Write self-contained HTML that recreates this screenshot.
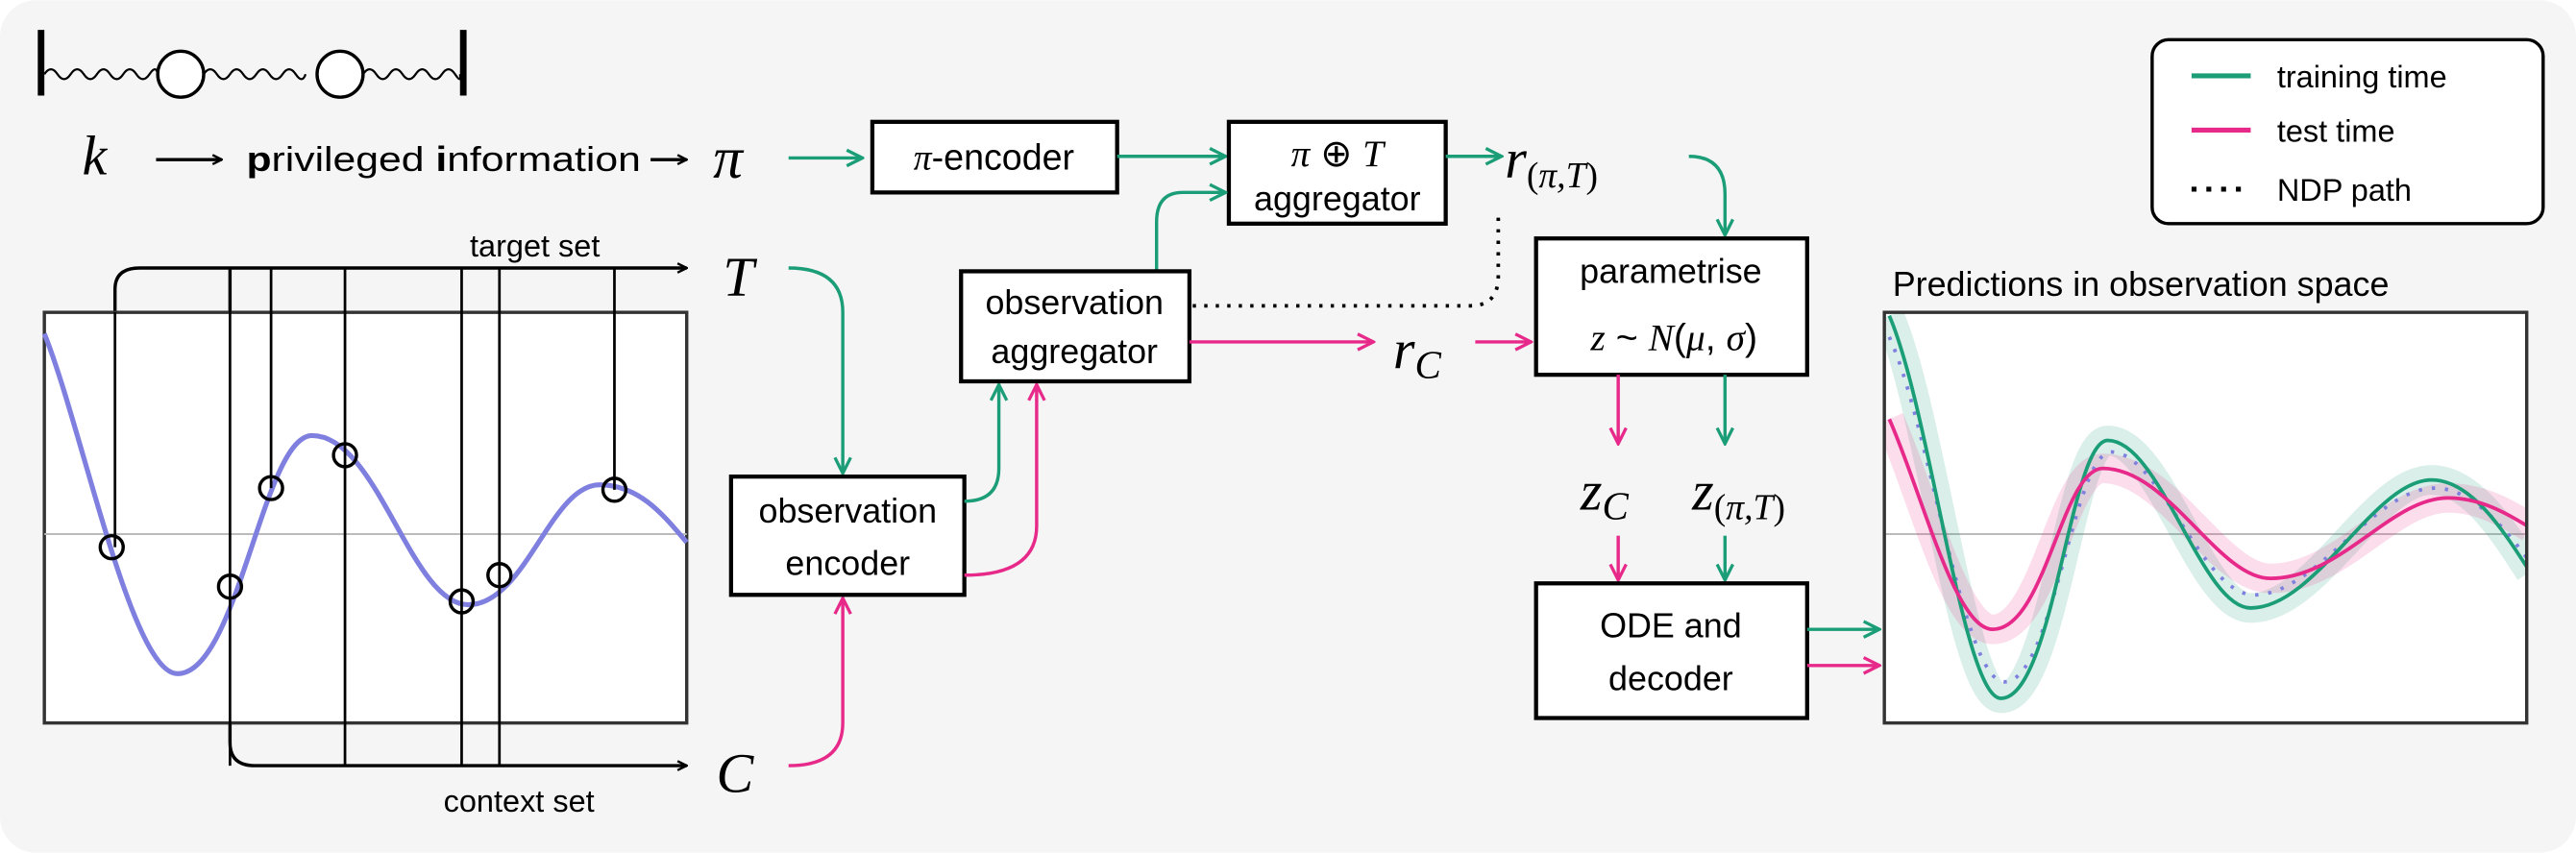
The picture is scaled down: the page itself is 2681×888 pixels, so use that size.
<!DOCTYPE html>
<html><head><meta charset="utf-8"><style>
html,body{margin:0;padding:0;background:#fff}
svg{display:block}
text{font-family:"Liberation Sans",sans-serif;fill:#000}
.m{font-family:"Liberation Serif",serif;font-style:italic}
</style></head><body>
<svg width="2681" height="888" viewBox="0 0 1568 519" xmlns="http://www.w3.org/2000/svg">
<defs>
<marker id="ak" viewBox="0 0 10 10" refX="9" refY="5" markerWidth="7" markerHeight="7" orient="auto" markerUnits="userSpaceOnUse"><path d="M1,1 L9,5 L1,9" fill="none" stroke="#000" stroke-width="2"/></marker>
<marker id="ag" viewBox="0 0 10 10" refX="9" refY="5" markerWidth="12" markerHeight="12" orient="auto" markerUnits="userSpaceOnUse"><path d="M1,1 L9,5 L1,9" fill="none" stroke="#1b9e77" stroke-width="1.6"/></marker>
<marker id="am" viewBox="0 0 10 10" refX="9" refY="5" markerWidth="12" markerHeight="12" orient="auto" markerUnits="userSpaceOnUse"><path d="M1,1 L9,5 L1,9" fill="none" stroke="#e7298a" stroke-width="1.6"/></marker>
</defs>
<rect x="0" y="0" width="1568" height="519" rx="22" fill="#f5f5f5"/>

<!-- spring -->
<line x1="25" y1="18" x2="25" y2="58" stroke="#000" stroke-width="4"/>
<line x1="282" y1="18" x2="282" y2="58" stroke="#000" stroke-width="4"/>
<path d="M27,45 q4,-6 8,0 t8,0 t8,0 t8,0 t8,0 t8,0 t8,0 t8,0 t5,0" fill="none" stroke="#000" stroke-width="1.3"/>
<path d="M124,45 q4,-6 8,0 t8,0 t8,0 t8,0 t8,0 t8,0 t8,0 t6,0" fill="none" stroke="#000" stroke-width="1.3"/>
<path d="M221,45 q4,-6 8,0 t8,0 t8,0 t8,0 t8,0 t8,0 t8,0 t3,0" fill="none" stroke="#000" stroke-width="1.3"/>
<circle cx="110" cy="45" r="14" fill="#fff" stroke="#000" stroke-width="2"/>
<circle cx="207" cy="45" r="14" fill="#fff" stroke="#000" stroke-width="2"/>

<text x="50" y="106" class="m" font-size="34">k</text>
<line x1="95" y1="97" x2="135" y2="97" stroke="#000" stroke-width="2" marker-end="url(#ak)"/>
<text x="150" y="104" font-size="21" textLength="240" lengthAdjust="spacingAndGlyphs"><tspan font-weight="bold">p</tspan>rivileged <tspan font-weight="bold">i</tspan>nformation</text>
<line x1="396" y1="97" x2="418" y2="97" stroke="#000" stroke-width="2" marker-end="url(#ak)"/>
<text x="434" y="108" class="m" font-size="36">π</text>
<line x1="480" y1="96" x2="525" y2="96" stroke="#1b9e77" stroke-width="2" marker-end="url(#ag)"/>

<rect x="531" y="74" width="149" height="43" fill="#fff" stroke="#000" stroke-width="2.5"/>
<text x="605" y="103" font-size="22" text-anchor="middle"><tspan class="m">π</tspan>-encoder</text>
<line x1="680" y1="95" x2="746" y2="95" stroke="#1b9e77" stroke-width="2" marker-end="url(#ag)"/>

<rect x="748" y="74" width="132" height="62" fill="#fff" stroke="#000" stroke-width="2.5"/>
<text x="814" y="101" font-size="23" text-anchor="middle"><tspan class="m">π</tspan> ⊕ <tspan class="m">T</tspan></text>
<text x="814" y="128" font-size="21" text-anchor="middle">aggregator</text>
<path d="M704,165 L704,135 Q704,117 720,117 L746,117" fill="none" stroke="#1b9e77" stroke-width="2" marker-end="url(#ag)"/>
<line x1="880" y1="95" x2="914" y2="95" stroke="#1b9e77" stroke-width="2" marker-end="url(#ag)"/>
<text x="916" y="108" class="m" font-size="34">r<tspan font-size="22" dy="6" font-style="normal">(</tspan><tspan font-size="22">π,T</tspan><tspan font-size="22" font-style="normal">)</tspan></text>
<path d="M1028,95 Q1050,95 1050,118 L1050,143" fill="none" stroke="#1b9e77" stroke-width="2" marker-end="url(#ag)"/>

<!-- target/context -->
<text x="286" y="156" font-size="19">target set</text>
<path d="M70,333 L70,176 Q70,163 85,163 L418,163" fill="none" stroke="#000" stroke-width="2" marker-end="url(#ak)"/>
<text x="440" y="180" class="m" font-size="34">T</text>
<text x="270" y="494" font-size="19">context set</text>
<path d="M140,163 L140,452 Q140,466 155,466 L418,466" fill="none" stroke="#000" stroke-width="2" marker-end="url(#ak)"/>
<text x="436" y="482" class="m" font-size="34">C</text>

<!-- left plot -->
<rect x="27" y="190" width="391" height="250" fill="#fff" stroke="#333" stroke-width="2"/>
<line x1="27" y1="325" x2="418" y2="325" stroke="#bbb" stroke-width="1.2"/>
<path d="M27,203 C50,260 80,410 108,410 C145,410 160,265 190,265 C230,265 250,368 285,368 C320,368 335,295 365,295 C390,295 405,315 418,330" fill="none" stroke="#7f7fdf" stroke-width="3"/>
<g stroke="#000" stroke-width="1.6">
<line x1="70" y1="190" x2="70" y2="333"/>
<line x1="140" y1="163" x2="140" y2="466"/>
<line x1="165" y1="163" x2="165" y2="297"/>
<line x1="210" y1="163" x2="210" y2="466"/>
<line x1="281" y1="163" x2="281" y2="466"/>
<line x1="304" y1="163" x2="304" y2="466"/>
<line x1="374" y1="163" x2="374" y2="298"/>
</g>
<g fill="none" stroke="#000" stroke-width="2">
<circle cx="68" cy="333" r="7"/><circle cx="140" cy="357" r="7"/><circle cx="165" cy="297" r="7"/><circle cx="210" cy="277" r="7"/><circle cx="281" cy="366" r="7"/><circle cx="304" cy="350" r="7"/><circle cx="374" cy="298" r="7"/>
</g>

<!-- encoder -->
<path d="M480,163 Q513,163 513,190 L513,288" fill="none" stroke="#1b9e77" stroke-width="2" marker-end="url(#ag)"/>
<path d="M480,466 Q513,466 513,440 L513,364" fill="none" stroke="#e7298a" stroke-width="2" marker-end="url(#am)"/>
<rect x="445" y="290" width="142" height="72" fill="#fff" stroke="#000" stroke-width="2.5"/>
<text x="516" y="318" font-size="21" text-anchor="middle">observation</text>
<text x="516" y="350" font-size="21" text-anchor="middle">encoder</text>
<path d="M587,305 Q608,305 608,285 L608,234" fill="none" stroke="#1b9e77" stroke-width="2" marker-end="url(#ag)"/>
<path d="M587,350 Q631,350 631,320 L631,234" fill="none" stroke="#e7298a" stroke-width="2" marker-end="url(#am)"/>

<rect x="585" y="165" width="139" height="67" fill="#fff" stroke="#000" stroke-width="2.5"/>
<text x="654" y="191" font-size="21" text-anchor="middle">observation</text>
<text x="654" y="221" font-size="21" text-anchor="middle">aggregator</text>
<path d="M726,186 L895,186 Q912,186 912,168 L912,128" fill="none" stroke="#000" stroke-width="2.2" stroke-dasharray="2,5"/>
<line x1="724" y1="208" x2="836" y2="208" stroke="#e7298a" stroke-width="2" marker-end="url(#am)"/>
<text x="848" y="224" class="m" font-size="34">r<tspan font-size="24" dy="6">C</tspan></text>
<line x1="898" y1="208" x2="932" y2="208" stroke="#e7298a" stroke-width="2" marker-end="url(#am)"/>

<rect x="935" y="145" width="165" height="83" fill="#fff" stroke="#000" stroke-width="2.5"/>
<text x="1017" y="172" font-size="21" text-anchor="middle">parametrise</text>
<text x="1019" y="213" font-size="23" text-anchor="middle"><tspan class="m">z</tspan>  ~ <tspan class="m">N</tspan>(<tspan class="m">μ</tspan>, <tspan class="m">σ</tspan>)</text>
<line x1="985" y1="228" x2="985" y2="270" stroke="#e7298a" stroke-width="2" marker-end="url(#am)"/>
<line x1="1050" y1="228" x2="1050" y2="270" stroke="#1b9e77" stroke-width="2" marker-end="url(#ag)"/>
<text x="962" y="310" class="m" font-size="34">z<tspan font-size="24" dy="6">C</tspan></text>
<text x="1030" y="310" class="m" font-size="34">z<tspan font-size="22" dy="6" font-style="normal">(</tspan><tspan font-size="22">π,T</tspan><tspan font-size="22" font-style="normal">)</tspan></text>
<line x1="985" y1="326" x2="985" y2="353" stroke="#e7298a" stroke-width="2" marker-end="url(#am)"/>
<line x1="1050" y1="326" x2="1050" y2="353" stroke="#1b9e77" stroke-width="2" marker-end="url(#ag)"/>

<rect x="935" y="355" width="165" height="82" fill="#fff" stroke="#000" stroke-width="2.5"/>
<text x="1017" y="388" font-size="21" text-anchor="middle">ODE and</text>
<text x="1017" y="420" font-size="21" text-anchor="middle">decoder</text>
<line x1="1100" y1="383" x2="1144" y2="383" stroke="#1b9e77" stroke-width="2" marker-end="url(#ag)"/>
<line x1="1100" y1="405" x2="1144" y2="405" stroke="#e7298a" stroke-width="2" marker-end="url(#am)"/>

<!-- right plot -->
<text x="1152" y="180" font-size="21">Predictions in observation space</text>
<svg x="1147" y="190" width="391" height="250" viewBox="1147 190 391 250" overflow="hidden">
<rect x="1147" y="190" width="391" height="250" fill="#fff"/>
<line x1="1147" y1="325" x2="1538" y2="325" stroke="#bbb" stroke-width="1.2"/>
<path d="M1150,192 C1175,250 1195,425 1218,425 C1250,425 1260,268 1283,268 C1315,268 1340,370 1370,370 C1410,370 1445,292 1480,292 C1505,292 1525,325 1540,348" fill="none" stroke="#1b9e77" stroke-opacity="0.16" stroke-width="18"/>
<path d="M1150,255 C1170,300 1190,383 1213,383 C1245,383 1255,285 1280,285 C1320,285 1350,352 1382,352 C1425,352 1455,303 1490,303 C1510,303 1525,312 1540,321" fill="none" stroke="#e7298a" stroke-opacity="0.16" stroke-width="18"/>
<path d="M1150,205 C1175,260 1195,415 1220,415 C1250,415 1262,275 1285,275 C1315,275 1340,362 1372,362 C1410,362 1445,297 1482,297 C1505,297 1525,322 1540,342" fill="none" stroke="#7f7fdf" stroke-width="2.2" stroke-dasharray="2,6"/>
<path d="M1150,192 C1175,250 1195,425 1218,425 C1250,425 1260,268 1283,268 C1315,268 1340,370 1370,370 C1410,370 1445,292 1480,292 C1505,292 1525,325 1540,348" fill="none" stroke="#1b9e77" stroke-width="2.2"/>
<path d="M1150,255 C1170,300 1190,383 1213,383 C1245,383 1255,285 1280,285 C1320,285 1350,352 1382,352 C1425,352 1455,303 1490,303 C1510,303 1525,312 1540,321" fill="none" stroke="#e7298a" stroke-width="2.2"/>
</svg>
<rect x="1147" y="190" width="391" height="250" fill="none" stroke="#333" stroke-width="2"/>

<!-- legend -->
<rect x="1310" y="24" width="238" height="112" rx="10" fill="#fff" stroke="#000" stroke-width="2"/>
<line x1="1334" y1="46" x2="1370" y2="46" stroke="#1b9e77" stroke-width="3"/>
<text x="1386" y="53" font-size="19">training time</text>
<line x1="1334" y1="79" x2="1370" y2="79" stroke="#e7298a" stroke-width="3"/>
<text x="1386" y="86" font-size="19">test time</text>
<line x1="1334" y1="115" x2="1370" y2="115" stroke="#000" stroke-width="3" stroke-dasharray="3,6"/>
<text x="1386" y="122" font-size="19">NDP path</text>
</svg>
</body></html>
